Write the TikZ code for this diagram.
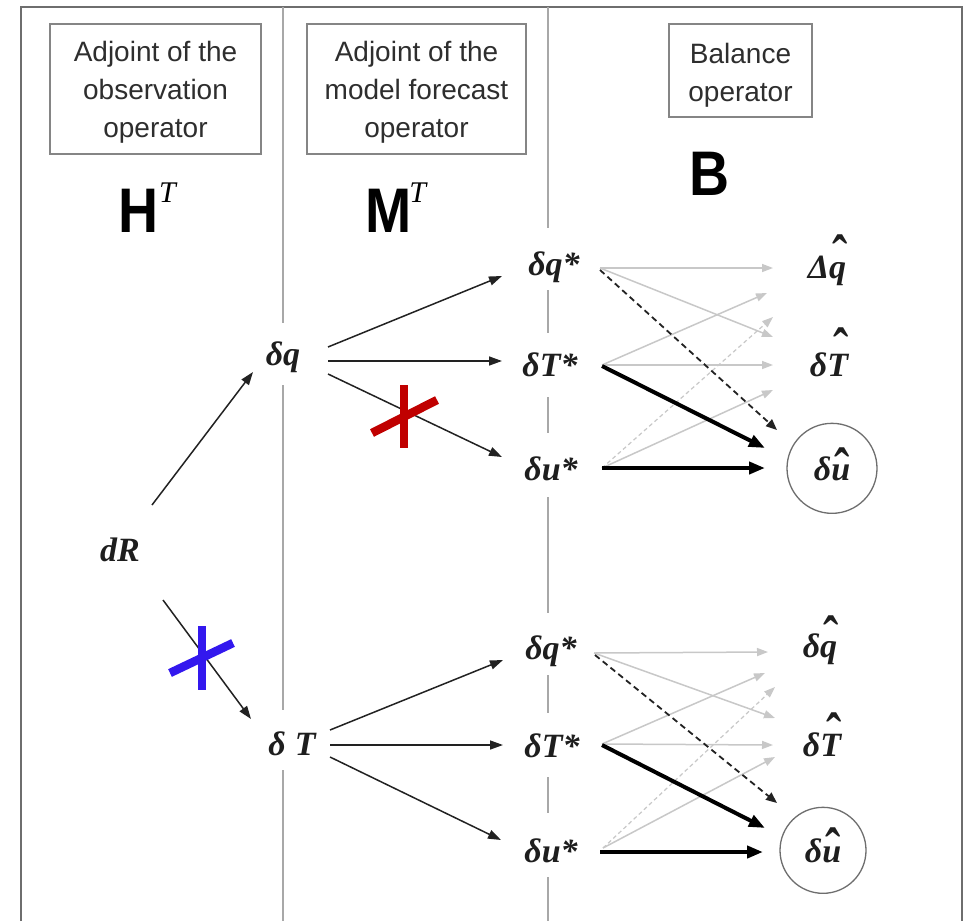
\documentclass[tikz,border=0pt]{standalone}
\usepackage{fontspec}
\usepackage{graphicx}
\usetikzlibrary{arrows.meta}
\setmainfont{Liberation Serif}
\newfontfamily\hdrfont{Liberation Sans}
\newfontfamily\symfont{Liberation Serif}

\definecolor{hdrgray}{HTML}{2E2E2E}
\definecolor{boxgray}{HTML}{858585}
\definecolor{framegray}{HTML}{6E6E6E}
\definecolor{divgray}{HTML}{A8A8A8}
\definecolor{lightarr}{HTML}{C8C8C8}
\definecolor{darkarr}{HTML}{222222}
\definecolor{lblcol}{HTML}{1E1E1E}
\definecolor{crossred}{HTML}{C00000}
\definecolor{crossblue}{HTML}{3318EE}

% operator letters and their transposition mark
\newcommand\bigop[1]{\scalebox{0.88}[1]{\hdrfont\bfseries\fontsize{63}{70}\selectfont #1}}
\newcommand\supT{\raisebox{30pt}{\symfont\itshape\fontsize{30}{34}\selectfont T}}

% a circumflex set over one letter: #1 height of its foot, #2 kern, #3 letter
\newsavebox\hatbox
\newcommand\withhat[3]{%
  \sbox\hatbox{#3}%
  \leavevmode\rlap{\hbox to \wd\hatbox{\hss\kern#2\smash{\raisebox{#1}{\scalebox{1.35}[1.7]{\raisebox{-17pt}{\upshape\char"02C6}}}}\hss}}\usebox\hatbox}

\tikzset{
  hdrbox/.style={draw=boxgray, line width=1.8pt, inner sep=0pt},
  hdrtext/.style={align=center, inner sep=0pt, text=hdrgray,
    font=\hdrfont\fontsize{28}{38}\selectfont},
  lbl/.style={anchor=base, inner sep=0pt, text=lblcol,
    font=\symfont\bfseries\itshape\fontsize{34}{40}\selectfont},
  circled/.style={lbl, circle, draw=framegray, line width=1.3pt},
  divider/.style={draw=divgray, line width=1.3pt},
  arr/.style={draw=darkarr, line width=1.5pt, -{Triangle[length=13pt,width=9pt]}},
  garr/.style={draw=lightarr, line width=1.5pt, -{Triangle[length=11pt,width=8pt]}},
  dgarr/.style={draw=lightarr, line width=1.2pt, dash pattern=on 4pt off 3pt,
    -{Triangle[length=11pt,width=8pt]}},
  darr/.style={draw=darkarr, line width=1.8pt, dash pattern=on 6pt off 4pt,
    -{Triangle[length=11pt,width=9pt]}},
  tarr/.style={draw=black, line width=4pt, -{Triangle[length=16pt,width=12pt]}},
  crossbar/.style={line width=8.5pt},
}

\begin{document}
\begin{tikzpicture}[x=1pt, y=-1pt]
\useasboundingbox (0,0) rectangle (966,921);
\fill[white] (0,0) rectangle (966,921);

% outer frame (open at the bottom)
\draw[framegray, line width=2.5pt] (21,921) -- (21,7) -- (962,7) -- (962,921);

% column dividers, broken around the labels
\draw[divider] (283,7) -- (283,323) (283,385) -- (283,710) (283,770) -- (283,921);
\draw[divider] (548,7) -- (548,228) (548,290) -- (548,333) (548,397) -- (548,433)
  (548,497) -- (548,613) (548,675) -- (548,713) (548,777) -- (548,813) (548,877) -- (548,921);

% column headers
\node[hdrbox, minimum width=211pt, minimum height=130pt] (box1) at (155.5,89) {};
\node[hdrtext] (txt1) at (155.5,92) {Adjoint of the\\observation\\operator};
\node[hdrbox, minimum width=219pt, minimum height=130pt] (box2) at (416.5,89) {};
\node[hdrtext] (txt2) at (416.5,92) {Adjoint of the\\model forecast\\operator};
\node[hdrbox, minimum width=143pt, minimum height=93pt] (box3) at (740.5,70.5) {};
\node[hdrtext] (txt3) at (740.5,75) {Balance\\operator};

% operators
\node[anchor=base west, inner sep=0pt] (opH) at (118,232) {\bigop{H}\kern1pt\supT};
\node[anchor=base west, inner sep=0pt] (opM) at (365,232) {\bigop{M}\kern-2pt\supT};
\node[anchor=base west, inner sep=0pt] (opB) at (689,195) {\bigop{B}};

% variables
\node[lbl] (dR) at (120,561) {dR};
\node[lbl] (dq) at (283,365) {δq};
\node[lbl] (dT) at (292,755) {δ\hspace{9pt}T};

\node[lbl] (a1) at (554,275) {δq*};
\node[lbl] (a2) at (550,376) {δT*};
\node[lbl] (a3) at (551,480) {δu*};
\node[lbl] (b1) at (551,659) {δq*};
\node[lbl] (b2) at (552,757) {δT*};
\node[lbl] (b3) at (551,862) {δu*};

\node[lbl] (r1) at (827,278) {Δ\withhat{31pt}{4pt}{q}};
\node[lbl] (r2) at (829,376) {δ\withhat{36pt}{6pt}{T}};
\node[circled, minimum size=90pt] (r3) at (832,480) {δ\withhat{20pt}{3pt}{u}};
\node[lbl] (s1) at (820,657) {δ\withhat{29pt}{4pt}{q}};
\node[lbl] (s2) at (822,756) {δ\withhat{31pt}{6pt}{T}};
\node[circled, minimum size=86pt] (s3) at (823,862) {δ\withhat{22pt}{3pt}{u}};

% observation operator adjoint
\draw[arr] ([shift={(32,-56)}]dR.base) -- ([shift={(-30,7)}]dq.base);
\draw[arr] ([shift={(43,39)}]dR.base) -- ([shift={(-41,-36)}]dT.base);

% model forecast adjoint
\draw[arr] ([shift={(45,-18)}]dq.base) -- ([shift={(-52,1)}]a1.base);
\draw[arr] ([shift={(45,-4)}]dq.base) -- ([shift={(-48,-15)}]a2.base);
\draw[arr] ([shift={(45,9)}]dq.base) -- ([shift={(-49,-23)}]a3.base);
\draw[arr] ([shift={(38,-25)}]dT.base) -- ([shift={(-48,1)}]b1.base);
\draw[arr] ([shift={(38,-10)}]dT.base) -- ([shift={(-49,-12)}]b2.base);
\draw[arr] ([shift={(38,2)}]dT.base) -- ([shift={(-50,-22)}]b3.base);

% balance operator, upper branch
\draw[garr] ([shift={(46,-7)}]a1.base) -- ([shift={(-54,-10)}]r1.base);
\draw[garr] ([shift={(46,-7)}]a1.base) -- ([shift={(-56,-39)}]r2.base);
\draw[garr] ([shift={(52,-11)}]a2.base) -- ([shift={(-60,15)}]r1.base);
\draw[garr] ([shift={(52,-11)}]a2.base) -- ([shift={(-56,-11)}]r2.base);
\draw[dgarr] ([shift={(51,-12)}]a3.base) -- ([shift={(-54,39)}]r1.base);
\draw[garr] ([shift={(51,-12)}]a3.base) -- ([shift={(-56,14)}]r2.base);
\draw[darr] ([shift={(46,-5)}]a1.base) -- ([shift={(-55,-50)}]r3.base);
\draw[tarr] ([shift={(52,-10)}]a2.base) -- ([shift={(-67,-32)}]r3.base);
\draw[tarr] ([shift={(51,-12)}]a3.base) -- ([shift={(-67,-12)}]r3.base);

% balance operator, lower branch
\draw[garr] ([shift={(43,-6)}]b1.base) -- ([shift={(-52,-5)}]s1.base);
\draw[garr] ([shift={(43,-6)}]b1.base) -- ([shift={(-47,-38)}]s2.base);
\draw[garr] ([shift={(50,-13)}]b2.base) -- ([shift={(-55,16)}]s1.base);
\draw[garr] ([shift={(50,-13)}]b2.base) -- ([shift={(-49,-11)}]s2.base);
\draw[dgarr] ([shift={(52,-14)}]b3.base) -- ([shift={(-45,30)}]s1.base);
\draw[garr] ([shift={(52,-14)}]b3.base) -- ([shift={(-47,1)}]s2.base);
\draw[darr] ([shift={(44,-4)}]b1.base) -- ([shift={(-46,-59)}]s3.base);
\draw[tarr] ([shift={(50,-12)}]b2.base) -- ([shift={(-58,-34)}]s3.base);
\draw[tarr] ([shift={(49,-10)}]b3.base) -- ([shift={(-60,-10)}]s3.base);

% cut marks
\draw[crossred, crossbar] (404,385) -- (404,448);
\draw[crossred, crossbar] (372,433) -- (437,400);
\draw[crossblue, crossbar] (202,626) -- (202,690);
\draw[crossblue, crossbar] (170,673) -- (233,643);
\end{tikzpicture}
\end{document}
